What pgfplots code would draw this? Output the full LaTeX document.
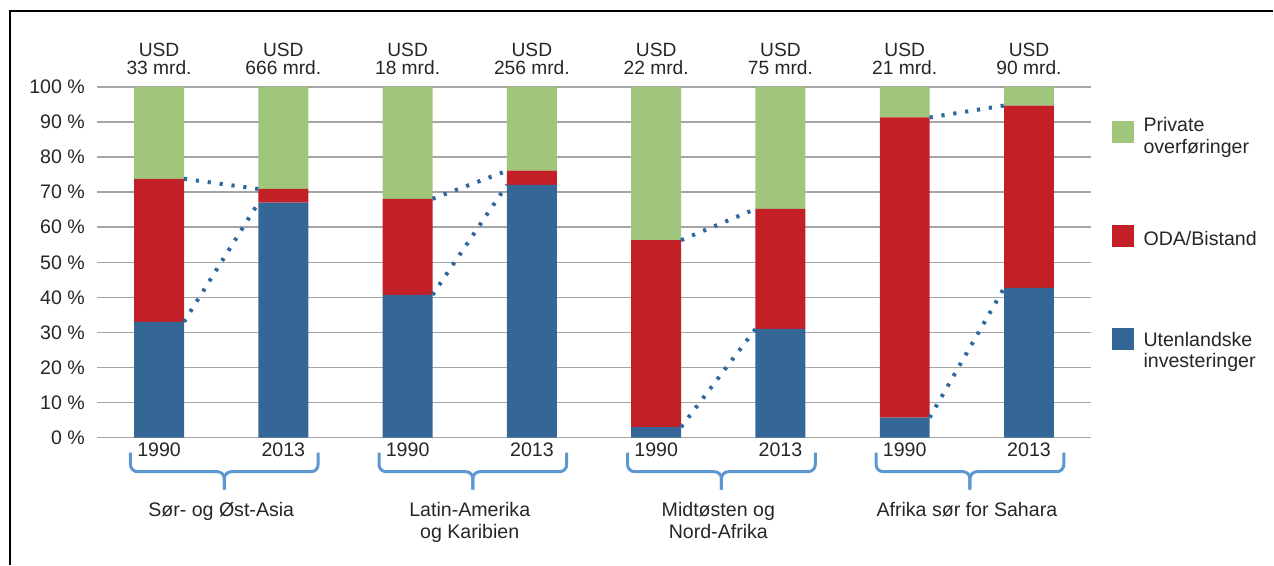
\documentclass[border=0pt]{standalone}
\usepackage{pgfplots}
\pgfplotsset{compat=1.18}
\usepackage{pgfplotstable}
\usepackage{fontspec}
\setmainfont{Liberation Sans}
\definecolor{cgreen}{RGB}{160,198,124}
\definecolor{cred}{RGB}{194,31,38}
\definecolor{cblue}{RGB}{52,103,150}
\definecolor{cdot}{RGB}{46,104,158}
\definecolor{cbrace}{RGB}{91,152,210}
\definecolor{ctext}{RGB}{38,38,38}
\definecolor{cgrid}{RGB}{165,165,165}

\pgfplotstableread{
x blue red green
0 33.0 40.8 26.2
1 67.0 3.9 29.1
2 40.7 27.4 31.9
3 72.1 4.0 23.9
4 3.0 53.3 43.7
5 31.0 34.2 34.8
6 5.7 85.6 8.7
7 42.7 52.0 5.3
}\data

\newcommand{\fs}{\fontsize{9.8}{11}\selectfont}
\newcommand{\fu}{\fontsize{9.6}{11}\selectfont}
\newcommand{\grpbrace}[3]{%
  \draw[cbrace, line width=1.5pt, rounded corners=3.5pt] (axis cs:#1,-4.3) -- (axis cs:#1,-9.7) -- (axis cs:#3,-9.7) -- (axis cs:#3,-14.8);
  \draw[cbrace, line width=1.5pt, rounded corners=3.5pt] (axis cs:#2,-4.3) -- (axis cs:#2,-9.7) -- (axis cs:#3,-9.7) -- (axis cs:#3,-14.8);}
\newcommand{\usd}[2]{%
  \node[font=\fu, text=ctext, inner sep=0pt, anchor=base] at (axis cs:#1,108.6) {USD};
  \node[font=\fu, text=ctext, inner sep=0pt, anchor=base] at (axis cs:#1,103.5) {#2 mrd.};}
\newcommand{\cat}[3]{\node[font=\fs, text=ctext, inner sep=0pt, anchor=base] at (axis cs:#1,#2) {#3};}

\pgfplotsset{base/.style={width=497.5pt,height=175.5pt,scale only axis,
  xmin=-0.5,xmax=7.5,ymin=0,ymax=100, at={(48.5pt,63.5pt)}, anchor=south west, clip=false},
  dotl/.style={cdot, line width=2pt, dash pattern=on 1.6pt off 4.4pt, mark=none}}

\begin{document}
\begin{tikzpicture}
\path (0,0) rectangle (637pt,282.5pt);
\draw[line width=1pt] (5pt,0) -- (5pt,277pt) -- (637pt,277pt);

\begin{axis}[base, ybar stacked, bar width=25pt,
  axis line style={draw=none}, major tick length=0pt,
  ymajorgrids, grid style={cgrid, line width=0.75pt},
  ytick={0,10,...,100},
  yticklabels={0 \%,10 \%,20 \%,30 \%,40 \%,50 \%,60 \%,70 \%,80 \%,90 \%,100 \%},
  xtick={0,...,7},
  xticklabels={1990,2013,1990,2013,1990,2013,1990,2013},
  tick label style={font=\fs, text=ctext},
  yticklabel style={xshift=-2.5pt},
  xticklabel style={yshift=1pt},
]
\addplot[fill=cblue, draw=none] table[x=x,y=blue]{\data};
\addplot[fill=cred, draw=none] table[x=x,y=red]{\data};
\addplot[fill=cgreen, draw=none] table[x=x,y=green]{\data};

\usd{0}{33}\usd{1}{666}\usd{2}{18}\usd{3}{256}
\usd{4}{22}\usd{5}{75}\usd{6}{21}\usd{7}{90}

\cat{0.5}{-22.4}{Sør- og Øst-Asia}
\cat{2.5}{-22.4}{Latin-Amerika}
\cat{2.5}{-28.8}{og Karibien}
\cat{4.5}{-22.4}{Midtøsten og}
\cat{4.5}{-28.8}{Nord-Afrika}
\cat{6.5}{-22.4}{Afrika sør for Sahara}

\grpbrace{-0.23}{1.28}{0.525}
\grpbrace{1.77}{3.28}{2.525}
\grpbrace{3.77}{5.28}{4.525}
\grpbrace{5.77}{7.28}{6.525}
\end{axis}

\begin{axis}[base, hide axis]
\addplot[dotl] coordinates {(0.2,33.0) (0.8,67.0)};
\addplot[dotl] coordinates {(2.2,40.7) (2.8,72.1)};
\addplot[dotl] coordinates {(4.2,3.0) (4.8,31.0)};
\addplot[dotl] coordinates {(6.2,5.7) (6.8,42.7)};
\addplot[dotl] coordinates {(0.2,73.8) (0.8,70.9)};
\addplot[dotl] coordinates {(2.2,68.1) (2.8,76.1)};
\addplot[dotl] coordinates {(4.2,56.3) (4.8,65.2)};
\addplot[dotl] coordinates {(6.2,91.3) (6.8,94.7)};
\end{axis}

% legend
\fill[cgreen] (556.5pt,211pt) rectangle (567.5pt,222pt);
\fill[cred] (556.5pt,159pt) rectangle (567.5pt,170pt);
\fill[cblue] (556.5pt,107.5pt) rectangle (567.5pt,118.5pt);
\begin{scope}[every node/.style={font=\fs, text=ctext, anchor=base west, inner sep=0pt}]
\node at (572pt,216.6pt) {Private};
\node at (572pt,205.9pt) {overføringer};
\node at (572pt,159.7pt) {ODA/Bistand};
\node at (572pt,109.2pt) {Utenlandske};
\node at (572pt,98.4pt) {investeringer};
\end{scope}
\end{tikzpicture}
\end{document}
